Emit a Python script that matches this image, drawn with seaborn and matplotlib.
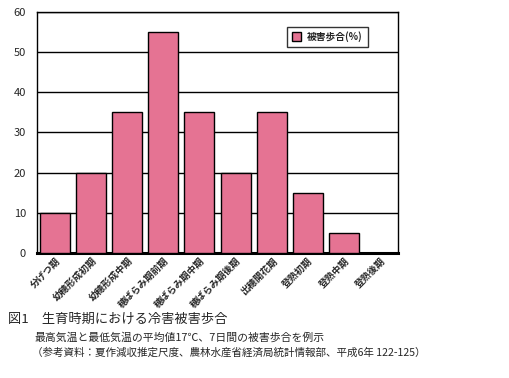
import matplotlib.pyplot as plt
import pandas as pd
import seaborn as sns

stages = ['分げつ期', '幼穂形成初期', '幼穂形成中期', '穂ばらみ期前期', '穂ばらみ期中期',
          '穂ばらみ期後期', '出穂開花期', '登熟初期', '登熟中期', '登熟後期']
damage = [10, 20, 35, 55, 35, 20, 35, 15, 5, 0]
yticks = [0, 10, 20, 30, 40, 50, 60]

df = pd.DataFrame({'stage': stages, 'damage': damage})

sns.set_theme(style='white')
plt.rcParams['font.family'] = ['Noto Sans CJK JP', 'DejaVu Sans']

fig = plt.figure(figsize=(5.1, 3.78), dpi=100)
ax = fig.add_axes([0.0725, 0.331, 0.708, 0.637])
sns.barplot(x='stage', y='damage', data=df, color='#e57393', width=0.83,
            edgecolor='black', linewidth=1, saturation=1, ax=ax, label='被害歩合(%)', zorder=3)

ax.set_ylim(0, 60)
ax.set_yticks(yticks)
ax.set_xlim(-0.5, 9.5)
for y in yticks[1:]:
    ax.axhline(y, color='black', linewidth=1, zorder=1)
for s in ax.spines.values():
    s.set_color('black')
    s.set_linewidth(1)
ax.spines['bottom'].set_linewidth(2.2)
ax.set_xlabel('')
ax.set_ylabel('')
ax.tick_params(axis='y', labelsize=8, length=0, pad=8)
ax.tick_params(axis='x', labelsize=6.8, length=0, pad=2)
plt.setp(ax.get_xticklabels(), rotation=45, ha='right', rotation_mode='anchor', fontweight='bold')

leg = ax.legend(loc='upper right', bbox_to_anchor=(0.93, 0.96), prop={'size': 7, 'weight': 'bold'},
                frameon=True, fancybox=False, edgecolor='black', handlelength=1.0, handleheight=1.0,
                borderpad=0.5, handletextpad=0.6)
leg.get_frame().set_linewidth(1)

fig.text(0.016, 0.155, '図1　生育時期における冷害被害歩合', fontsize=9.5, va='center')
fig.text(0.068, 0.108, '最高気温と最低気温の平均値17℃、7日間の被害歩合を例示', fontsize=7.8, va='center')
fig.text(0.062, 0.068, '（参考資料：夏作減収推定尺度、農林水産省経済局統計情報部、平成6年 122-125）', fontsize=7.6, va='center')

plt.savefig('out.png', dpi=100)
